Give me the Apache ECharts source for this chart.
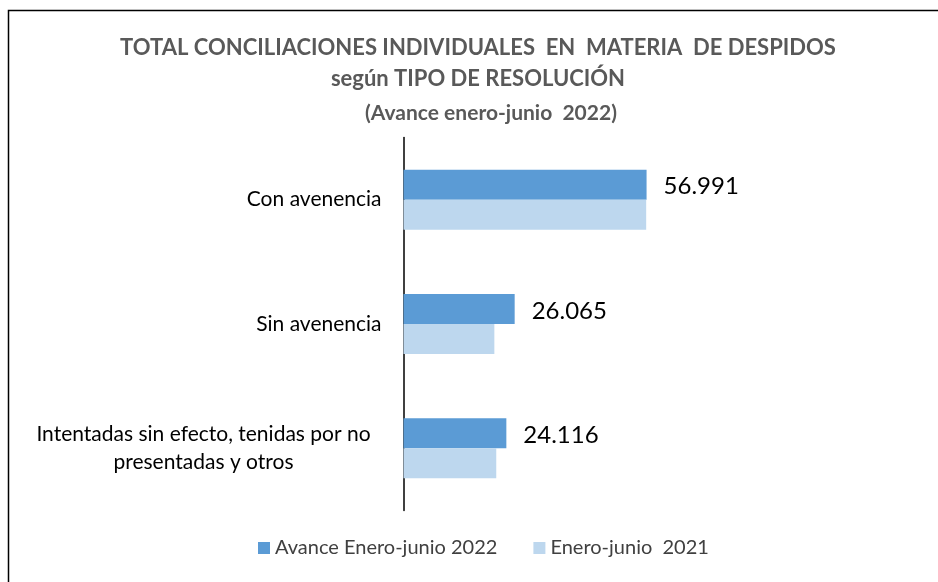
<!DOCTYPE html>
<html>
<head>
<meta charset="utf-8">
<script src="https://cdn.jsdelivr.net/npm/echarts@6/dist/echarts.min.js"></script>
<style>
  html, body { margin: 0; padding: 0; background: #fff; }
  #main { width: 938px; height: 582px; }
</style>
</head>
<body>
<div id="main"></div>
<script>
// categorias (de arriba a abajo)
var categorias = ['Con avenencia', 'Sin avenencia', 'Intentadas sin efecto, tenidas por no\npresentadas y otros'];
var nombres = ['Avance Enero-junio 2022', 'Enero-junio  2021'];
var avance2022 = [56991, 26065, 24116];
var enero2021 = [56900, 21300, 21750];

var fuente = 'Lato, "Noto Sans", sans-serif';

function miles(v) {
  return String(v).replace(/\B(?=(\d{3})+(?!\d))/g, '.');
}

var myChart = echarts.init(document.getElementById('main'));

var option = {
  backgroundColor: '#fff',
  animation: false,
  textStyle: { fontFamily: fuente },
  graphic: [{
    type: 'rect',
    shape: { x: 8.5, y: 10.5, width: 940, height: 580 },
    style: { fill: 'none', stroke: '#000', lineWidth: 1.5 }
  }],
  title: [{
    text: 'TOTAL CONCILIACIONES INDIVIDUALES  EN  MATERIA  DE DESPIDOS\nsegún TIPO DE RESOLUCIÓN',
    left: 473,
    top: 27,
    textAlign: 'center',
    textStyle: { fontFamily: fuente, fontSize: 22, fontWeight: 'bold', color: '#595959', lineHeight: 31 }
  }, {
    text: '(Avance enero-junio  2022)',
    left: 486,
    top: 98,
    textAlign: 'center',
    textStyle: { fontFamily: fuente, fontSize: 21, fontWeight: 'bold', color: '#595959' }
  }],
  legend: {
    data: nombres,
    bottom: 19,
    left: 253,
    icon: 'rect',
    itemWidth: 12,
    itemHeight: 12,
    itemGap: 36,
    itemStyle: { borderWidth: 0 },
    textStyle: { fontFamily: fuente, fontSize: 20, color: '#404040' }
  },
  grid: { left: 403.5, right: 108, top: 137.5, bottom: 71.5 },
  xAxis: {
    type: 'value',
    min: 0,
    max: 100000,
    show: false
  },
  yAxis: {
    type: 'category',
    data: categorias,
    inverse: true,
    axisLine: { lineStyle: { color: '#000', width: 1.5 } },
    axisTick: { show: false },
    axisLabel: {
      margin: 22,
      fontFamily: fuente,
      fontSize: 21,
      color: '#000',
      lineHeight: 28,
      formatter: function (v) {
        if (v.indexOf('\n') >= 0) {
          return v.split('\n').map(function (l) { return '{c|' + l + '}'; }).join('\n');
        }
        return v;
      },
      rich: {
        c: { width: 356, align: 'center', fontSize: 21, fontFamily: fuente, color: '#000', lineHeight: 28 }
      }
    }
  },
  series: [{
    name: nombres[0],
    type: 'bar',
    data: avance2022,
    barWidth: 30,
    barGap: '0%',
    itemStyle: { color: '#5B9BD5' },
    label: {
      show: true,
      position: 'right',
      distance: 17,
      offset: [0, 2],
      fontFamily: fuente,
      fontSize: 24,
      color: '#000',
      formatter: function (p) { return miles(p.value); }
    }
  }, {
    name: nombres[1],
    type: 'bar',
    data: enero2021,
    barWidth: 30,
    barGap: '0%',
    itemStyle: { color: '#BDD7EE' }
  }]
};

myChart.setOption(option);
</script>
</body>
</html>
